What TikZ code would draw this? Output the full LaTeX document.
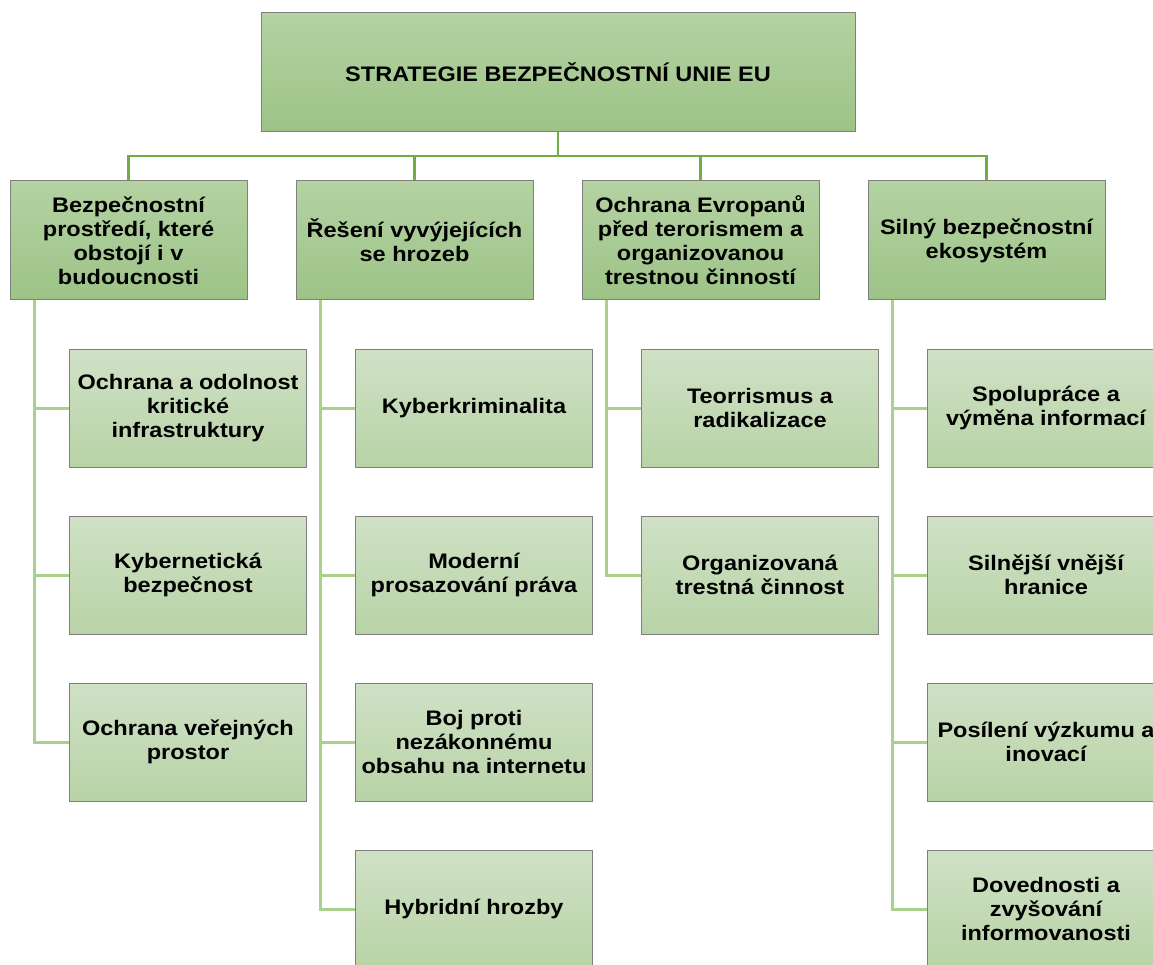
\documentclass[tikz,border=0pt]{standalone}
\usepackage{fontspec}
\setmainfont{Liberation Sans}[FakeStretch=1.12]
\definecolor{headtop}{HTML}{B4D2A2}
\definecolor{headbot}{HTML}{9DC387}
\definecolor{kidtop}{HTML}{D0E1C6}
\definecolor{kidbot}{HTML}{B8D3A6}
\definecolor{boxline}{HTML}{7F7F7F}
\definecolor{barline}{HTML}{70AD47}
\definecolor{spineline}{HTML}{A9D18E}
\begin{document}
\begin{tikzpicture}[x=1pt, y=-1pt,
  head/.style={shape=rectangle, draw=boxline, line width=1pt, top color=headtop, bottom color=headbot,
    minimum width=237pt, minimum height=119pt, inner sep=1pt, align=center,
    font=\fontsize{21}{24}\selectfont\bfseries},
  kid/.style={head, top color=kidtop, bottom color=kidbot, minimum height=118pt},
  bar/.style={draw=barline, line width=2.2pt},
  spine/.style={draw=spineline, line width=3pt}]
%%%%%%%%%%%%%%%%%%%%%%%%%%%%%%%%%%%%%%%%%%% HELP LINES
%\draw[help lines, step=50] (0,0) grid (1153,965);
\useasboundingbox (0,0) rectangle (1153,965);
\clip (0,0) rectangle (1153,965);

%%%%%%%%%%%%%%%%%%%%%%%%%%%%%%%%%%%%%%%%%%% top and pillars
\node[head, minimum width=594pt](strat) at (558,72.5){STRATEGIE BEZPEČNOSTNÍ UNIE EU};
\coordinate (bar) at (558,156);
\node[head](pillar1) at (128.5,240.5){Bezpečnostní\\prostředí, které\\obstojí i v\\budoucnosti};
\node[head](pillar2) at (414.5,240.5){Řešení vyvýjejících\\se hrozeb};
\node[head](pillar3) at (700.5,240.5){Ochrana Evropanů\\před terorismem a\\organizovanou\\trestnou činností};
\node[head](pillar4) at (986.5,240.5){Silný bezpečnostní\\ekosystém};

%%%%% connectors from the top
\draw[bar] (strat.south) -- (bar);
\draw[bar] (pillar1.north) |- (bar);
\draw[bar] (pillar2.north) |- (bar);
\draw[bar] (pillar3.north) |- (bar);
\draw[bar] (pillar4.north) |- (bar);

%%%%%%%%%%%%%%%%%%%%%%%%%%%%%%%%%%%%%%%%%%% first pillar
\coordinate (spine1) at (34,300);
\node[kid](item11) at (188,408){Ochrana a odolnost\\kritické\\infrastruktury};
\node[kid](item12) at (188,575){Kybernetická\\bezpečnost};
\node[kid](item13) at (188,742){Ochrana veřejných\\prostor};
\draw[spine] (spine1) |- (item11.west);
\draw[spine] (spine1) |- (item12.west);
\draw[spine] (spine1) |- (item13.west);

%%%%%%%%%%%%%%%%%%%%%%%%%%%%%%%%%%%%%%%%%%% second pillar
\coordinate (spine2) at (320,300);
\node[kid](item21) at (474,408){Kyberkriminalita};
\node[kid](item22) at (474,575){Moderní\\prosazování práva};
\node[kid](item23) at (474,742){Boj proti\\nezákonnému\\obsahu na internetu};
\node[kid](item24) at (474,909){Hybridní hrozby};
\draw[spine] (spine2) |- (item21.west);
\draw[spine] (spine2) |- (item22.west);
\draw[spine] (spine2) |- (item23.west);
\draw[spine] (spine2) |- (item24.west);

%%%%%%%%%%%%%%%%%%%%%%%%%%%%%%%%%%%%%%%%%%% third pillar
\coordinate (spine3) at (606,300);
\node[kid](item31) at (760,408){Teorrismus a\\radikalizace};
\node[kid](item32) at (760,575){Organizovaná\\trestná činnost};
\draw[spine] (spine3) |- (item31.west);
\draw[spine] (spine3) |- (item32.west);

%%%%%%%%%%%%%%%%%%%%%%%%%%%%%%%%%%%%%%%%%%% fourth pillar
\coordinate (spine4) at (892,300);
\node[kid](item41) at (1046,408){Spolupráce a\\výměna informací};
\node[kid](item42) at (1046,575){Silnější vnější\\hranice};
\node[kid](item43) at (1046,742){Posílení výzkumu a\\inovací};
\node[kid](item44) at (1046,909){Dovednosti a\\zvyšování\\informovanosti};
\draw[spine] (spine4) |- (item41.west);
\draw[spine] (spine4) |- (item42.west);
\draw[spine] (spine4) |- (item43.west);
\draw[spine] (spine4) |- (item44.west);
\end{tikzpicture}
\end{document}
